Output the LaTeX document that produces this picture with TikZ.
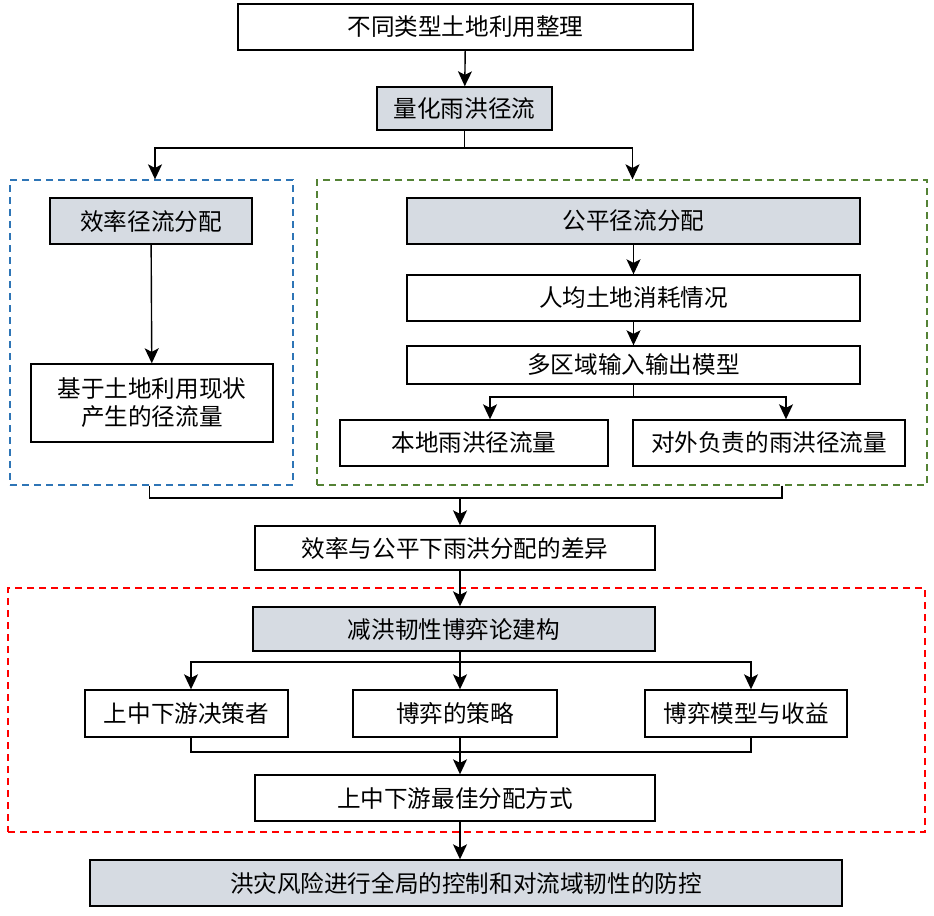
\documentclass[tikz,border=0pt]{standalone}
\usepackage{fontspec}
\newfontfamily\cjk{Noto Sans CJK SC}
\usetikzlibrary{arrows.meta}

\definecolor{boxgray}{HTML}{D6DBE2}
\definecolor{grpblue}{HTML}{2E75B6}
\definecolor{grpgreen}{HTML}{548235}
\definecolor{grpred}{HTML}{FF0000}

\tikzset{
  box/.style={draw, line width=0.7pt, inner sep=0pt, minimum height=23pt,
              font=\cjk\fontsize{11.8}{14}\selectfont, align=center},
  gbox/.style={box, fill=boxgray},
  grp/.style={draw=#1, line width=0.65pt, dash pattern=on 3.5pt off 2.5pt, inner sep=0pt},
  arr/.style={-{Stealth[length=7.5pt,width=7pt,inset=1.8pt]}, line width=0.7pt},
  ln/.style={line width=0.7pt}
}

\begin{document}
\begin{tikzpicture}[x=0.5pt,y=-0.5pt]

\useasboundingbox (0,0) rectangle (934,916);

% dashed groups
\node[grp=grpblue,  minimum width=141.5pt, minimum height=152.5pt] (gEff)  at (151.5,332.5) {};
\node[grp=grpgreen, minimum width=305pt,   minimum height=152.5pt] (gFair) at (622,332.5) {};
\node[grp=grpred,   minimum width=458.5pt, minimum height=122pt]   (gRes)  at (466.5,710) {};

% boxes
\node[box,  minimum width=227.5pt] (top)    at (465.5,27)  {不同类型土地利用整理};
\node[gbox, minimum width=87.5pt, minimum height=21.5pt] (quant) at (464.5,108.5) {量化雨洪径流};

\node[gbox, minimum width=101pt]   (eff)    at (151,221)   {效率径流分配};
\node[box,  minimum width=121pt, minimum height=39pt] (exist) at (152,403) {基于土地利用现状\\产生的径流量};

\node[gbox, minimum width=226.5pt] (fair)   at (633.5,221) {公平径流分配};
\node[box,  minimum width=226.5pt] (percap) at (633.5,298) {人均土地消耗情况};
\node[box,  minimum width=226.5pt, minimum height=19pt] (mrio) at (633.5,365) {多区域输入输出模型};
\node[box,  minimum width=134pt]   (local)  at (474,443)   {本地雨洪径流量};
\node[box,  minimum width=136pt]   (outw)   at (769,443)   {对外负责的雨洪径流量};

\node[box,  minimum width=200pt, minimum height=22pt] (diff) at (455,548) {效率与公平下雨洪分配的差异};

\node[gbox, minimum width=201pt, minimum height=22pt] (game) at (454,629) {减洪韧性博弈论建构};
\node[box,  minimum width=101.5pt, minimum height=23.5pt] (actor) at (186.5,713.5) {上中下游决策者};
\node[box,  minimum width=102pt,   minimum height=23.5pt] (strat) at (455,713.5)   {博弈的策略};
\node[box,  minimum width=101pt,   minimum height=23.5pt] (model) at (746,713.5)   {博弈模型与收益};
\node[box,  minimum width=200pt]   (best)   at (455,798)   {上中下游最佳分配方式};

\node[gbox, minimum width=376pt]   (final)  at (466,883)   {洪灾风险进行全局的控制和对流域韧性的防控};

% split points
\coordinate (sp1) at (465,148);
\coordinate (sp2) at (633.5,397);
\coordinate (mg1) at (460,498);
\coordinate (sp3) at (460,662);
\coordinate (mg2) at (460,752);

% connectors
\draw[arr] (top) -- (quant);
\draw[ln] (quant.south) -- (quant.south |- sp1);
\draw[arr] (quant.south |- sp1) -| ([xshift=2pt]eff.north |- gEff.north);
\draw[arr] (quant.south |- sp1) -| ([xshift=-0.5pt]fair.north |- gFair.north);

\draw[arr] (eff) -- (exist);
\draw[arr] (fair) -- (percap);
\draw[arr] (percap) -- (mrio);
\draw[ln] (mrio.south) -- (sp2);
\draw[arr] (sp2) -| ([xshift=8pt]local.north);
\draw[arr] (sp2) -| ([xshift=8.5pt]outw.north);

\draw[ln] ([xshift=-1pt]gEff.south) |- (mg1);
\draw[ln] ([xshift=80pt]gFair.south) |- (mg1);
\draw[arr] (mg1) -- (diff.north -| mg1);

\draw[arr] (diff.south -| mg1) -- (game.north -| mg1);
\draw[ln] (game.south -| sp3) -- (sp3);
\draw[arr] (sp3) -| ([xshift=2.25pt]actor.north);
\draw[arr] (sp3) -- (strat.north -| sp3);
\draw[arr] (sp3) -| ([xshift=2.5pt]model.north);

\draw[ln] ([xshift=2.25pt]actor.south) |- (mg2);
\draw[ln] ([xshift=2.5pt]model.south) |- (mg2);
\draw[ln] (strat.south -| mg2) -- (mg2);
\draw[arr] (mg2) -- (best.north -| mg2);
\draw[arr] (best.south -| mg2) -- (final.north -| mg2);

\end{tikzpicture}
\end{document}
